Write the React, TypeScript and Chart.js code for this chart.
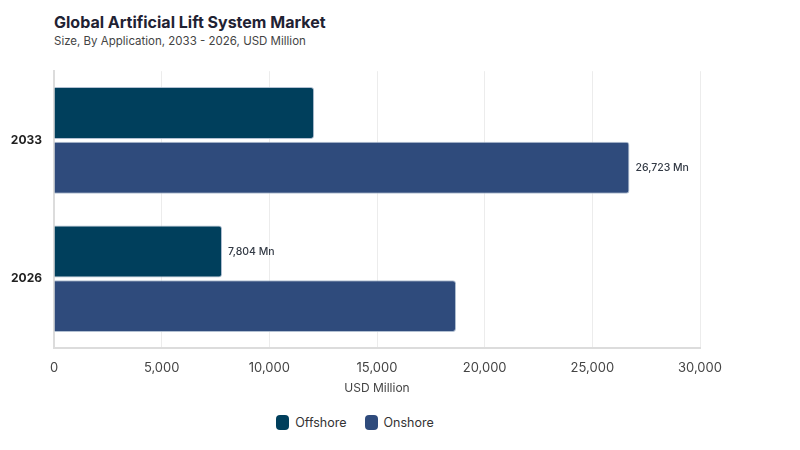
import React, { useEffect, useRef } from "react";
import { Chart, registerables } from "chart.js";

Chart.register(...registerables);

const categories: string[] = ["2033", "2026"];
const offshoreValues: number[] = [12080, 7804];
const onshoreValues: number[] = [26723, 18670];
const offshoreShowLabel: boolean[] = [false, true];
const onshoreShowLabel: boolean[] = [true, false];
const xTickMax = 30000;
const xTickStep = 5000;

const OFFSHORE = "#003f5c";
const ONSHORE = "#2f4b7c";
const FONT = "Inter, 'Noto Sans', sans-serif";

const labelPlugin = {
  id: "barValueLabels",
  afterDatasetsDraw(chart: any) {
    const ctx = chart.ctx;
    const flags = [offshoreShowLabel, onshoreShowLabel];
    chart.data.datasets.forEach((ds: any, di: number) => {
      const meta = chart.getDatasetMeta(di);
      meta.data.forEach((el: any, i: number) => {
        if (!flags[di][i]) return;
        const v = ds.data[i] as number;
        ctx.save();
        ctx.font = `500 10.5px ${FONT}`;
        ctx.fillStyle = "#333a45";
        ctx.textAlign = "left";
        ctx.textBaseline = "middle";
        ctx.fillText(v.toLocaleString("en-US") + " Mn", el.x + 6, el.y);
        ctx.restore();
      });
    });
  },
};

export default function App() {
  const ref = useRef<HTMLCanvasElement | null>(null);

  useEffect(() => {
    if (!ref.current) return;
    const chart = new Chart(ref.current, {
      type: "bar",
      data: {
        labels: categories,
        datasets: [
          {
            label: "Offshore",
            data: offshoreValues,
            backgroundColor: OFFSHORE,
            borderColor: "rgba(170,185,205,0.9)",
            borderWidth: 1,
            borderRadius: 3,
            categoryPercentage: 0.79,
            barPercentage: 0.95,
          },
          {
            label: "Onshore",
            data: onshoreValues,
            backgroundColor: ONSHORE,
            borderColor: "rgba(170,185,205,0.9)",
            borderWidth: 1,
            borderRadius: 3,
            categoryPercentage: 0.79,
            barPercentage: 0.95,
          },
        ],
      },
      options: {
        indexAxis: "y",
        animation: false,
        responsive: false,
        maintainAspectRatio: false,
        layout: { padding: { left: 0, right: 100, top: 0, bottom: 0 } },
        plugins: {
          legend: { display: false },
          title: { display: false },
          tooltip: { enabled: false },
        },
        scales: {
          x: {
            min: 0,
            max: xTickMax,
            ticks: {
              stepSize: xTickStep,
              padding: 12,
              color: "#444",
              font: { family: FONT, size: 13 },
              callback: (v: any) => Number(v).toLocaleString("en-US"),
              maxRotation: 0,
            },
            grid: { color: "#ececec", drawTicks: false },
            border: { color: "#dcdcdc", width: 2 },
            title: {
              display: true,
              text: "USD Million",
              color: "#444",
              font: { family: FONT, size: 12 },
              padding: { top: 4, bottom: 14 },
            },
            afterFit: (scale: any) => {
              scale.height = 62;
            },
          },
          y: {
            ticks: {
              padding: 12,
              color: "#222",
              font: { family: FONT, size: 12, weight: "bold" },
            },
            grid: { display: false, drawTicks: false },
            border: { color: "#dcdcdc", width: 2 },
            afterFit: (scale: any) => {
              scale.width = 54;
            },
          },
        },
      },
      plugins: [labelPlugin],
    });
    return () => chart.destroy();
  }, []);

  const legendItems = [
    { label: "Offshore", color: OFFSHORE },
    { label: "Onshore", color: ONSHORE },
  ];

  return (
    <div
      style={{
        position: "fixed",
        left: 0,
        top: 0,
        width: 800,
        height: 450,
        background: "#fff",
        fontFamily: FONT,
      }}
    >
      <div
        style={{
          position: "absolute",
          left: 54,
          top: 12,
          fontSize: 16,
          fontWeight: 700,
          color: "#1f2233",
          whiteSpace: "nowrap",
        }}
      >
        Global Artificial Lift System Market
      </div>
      <div
        style={{
          position: "absolute",
          left: 54,
          top: 34,
          fontSize: 11.5,
          color: "#444",
          whiteSpace: "nowrap",
        }}
      >
        Size, By Application, 2033 - 2026, USD Million
      </div>
      <canvas
        ref={ref}
        width={800}
        height={358}
        style={{ position: "absolute", left: 0, top: 52, width: 800, height: 358 }}
      />
      <div
        style={{
          position: "absolute",
          left: 0,
          top: 415,
          width: 710,
          display: "flex",
          justifyContent: "center",
          alignItems: "center",
          gap: 18,
          fontSize: 12.5,
          color: "#333",
        }}
      >
        {legendItems.map((it) => (
          <div key={it.label} style={{ display: "flex", alignItems: "center", gap: 6 }}>
            <span
              style={{
                display: "inline-block",
                width: 13,
                height: 15,
                borderRadius: 4,
                background: it.color,
              }}
            />
            <span>{it.label}</span>
          </div>
        ))}
      </div>
    </div>
  );
}
